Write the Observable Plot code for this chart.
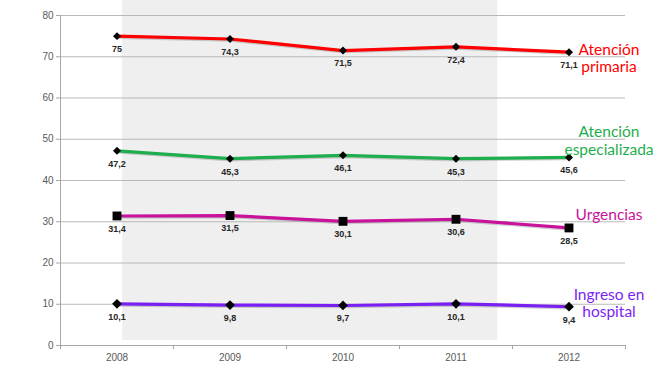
<!DOCTYPE html>
<html>
<head>
<meta charset="utf-8">
<script src="https://cdn.jsdelivr.net/npm/d3@7"></script>
<script src="https://cdn.jsdelivr.net/npm/@observablehq/plot@0.6"></script>
<style>
  html, body { margin: 0; padding: 0; background: #fff; }
  #chart svg { display: block; }
</style>
</head>
<body>
<div id="chart"></div>
<script>
// ---- data ----
const years = [2008, 2009, 2010, 2011, 2012];
const primaria = [75, 74.3, 71.5, 72.4, 71.1];
const especializada = [47.2, 45.3, 46.1, 45.3, 45.6];
const urgencias = [31.4, 31.5, 30.1, 30.6, 28.5];
const ingreso = [10.1, 9.8, 9.7, 10.1, 9.4];
const yTicks = [0, 10, 20, 30, 40, 50, 60, 70, 80];
const seriesNames = ["Atención\nprimaria", "Atención\nespecializada", "Urgencias", "Ingreso en\nhospital"];
const seriesColors = ["#ff0000", "#1fae4e", "#c8129c", "#7a1ff2"];
const seriesSymbols = ["diamond2", "diamond2", "square", "diamond2"];
const seriesValues = [primaria, especializada, urgencias, ingreso];

// ---- build table ----
const rows = [];
seriesValues.forEach((vals, i) => {
  vals.forEach((v, j) => rows.push({series: seriesNames[i], idx: i, year: years[j], value: v}));
});
const lastRows = rows.filter(d => d.year === years[years.length - 1]);
const fmt = v => String(v).replace(".", ",");
const labelDy = [6, -17, -14, -4];
const symR = [3.6, 3.6, 5.0, 4.4];

const marks = [
  // shaded period
  Plot.rect([0], {x1: 2008.05, x2: 2011.37, y1: 1.2, y2: 83.7, fill: "#efefef"}),
  // gridlines
  Plot.ruleY(yTicks.filter(t => t > 0), {x1: 2007.5, x2: 2012.5, stroke: "#b9b9b9", strokeWidth: 1}),
  // axes lines
  Plot.ruleY([0], {x1: 2007.5, x2: 2012.5, stroke: "#a6a6a6"}),
  Plot.ruleX([2007.5], {y1: 0, y2: 80, stroke: "#a6a6a6"}),
  Plot.axisY({ticks: yTicks, tickSize: 4, tickPadding: 3, stroke: "#a6a6a6", fill: "#595959", fontSize: 10, label: null}),
  Plot.axisX({ticks: [2007.5, 2008.5, 2009.5, 2010.5, 2011.5, 2012.5], tickSize: 4, tickFormat: () => "", stroke: "#a6a6a6", label: null}),
  Plot.axisX({ticks: years, tickSize: 0, tickPadding: 8, tickFormat: d => String(d), fill: "#595959", fontSize: 10, label: null})
];

seriesValues.forEach((vals, i) => {
  const data = rows.filter(d => d.idx === i);
  marks.push(
    Plot.line(data, {x: "year", y: "value", stroke: "#8a8a8a", strokeWidth: 3.6, strokeOpacity: 0.4, dy: 1, curve: "linear"}),
    Plot.line(data, {x: "year", y: "value", stroke: seriesColors[i], strokeWidth: 3.2}),
    Plot.dot(data, {x: "year", y: "value", symbol: seriesSymbols[i], r: symR[i], fill: "#000", stroke: "none"}),
    Plot.text(data, {x: "year", y: "value", text: d => fmt(d.value), dy: 13, fontSize: 9, fontWeight: "bold", fill: "#262626", fontFamily: "Liberation Sans, Arial, sans-serif"}),
    Plot.text(lastRows.filter(d => d.idx === i), {x: "year", y: "value", text: "series", dx: 40, dy: labelDy[i], fill: seriesColors[i], fontSize: 15.5, lineHeight: 1.12, fontFamily: "Lato, sans-serif"})
  );
});

const chart = Plot.plot({
  width: 660,
  height: 368,
  marginLeft: 60,
  marginRight: 35,
  marginTop: 15,
  marginBottom: 23,
  style: {fontFamily: "Liberation Sans, Arial, sans-serif", background: "#fff", overflow: "visible"},
  x: {domain: [2007.5, 2012.5], axis: null},
  y: {domain: [0, 80], axis: null},
  marks
});
document.getElementById("chart").appendChild(chart);
</script>
</body>
</html>
